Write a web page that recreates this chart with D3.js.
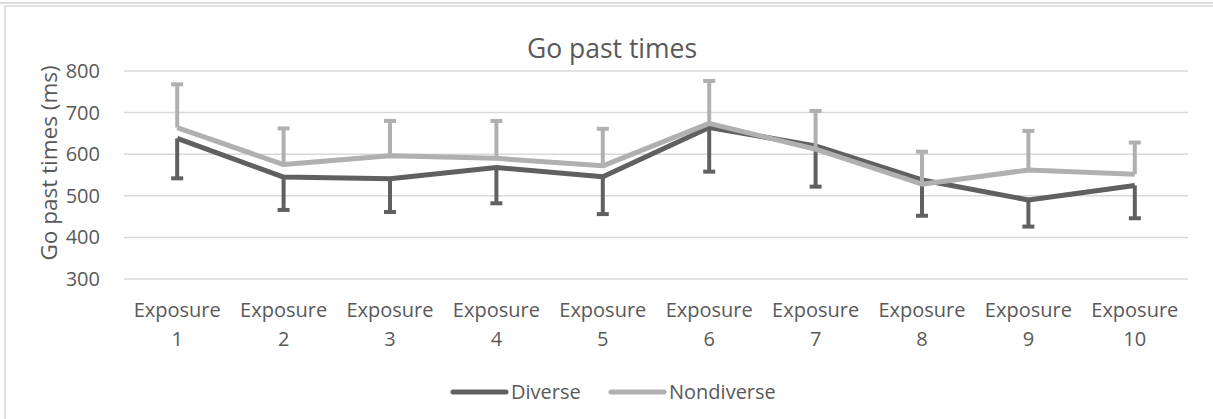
<!DOCTYPE html>
<html>
<head>
<meta charset="utf-8">
<script src="https://cdn.jsdelivr.net/npm/d3@7"></script>
<style>
    html, body { margin: 0; padding: 0; background: #fff; }
    svg { display: block; font-family: 'Open Sans', sans-serif; }
</style>
</head>
<body>
<svg id="chart"></svg>
<script>
'use strict';

const categories = ['Exposure 1', 'Exposure 2', 'Exposure 3', 'Exposure 4', 'Exposure 5',
    'Exposure 6', 'Exposure 7', 'Exposure 8', 'Exposure 9', 'Exposure 10'];
const diverse = [638, 545, 541, 568, 546, 664, 620, 538, 490, 525];
const diverseErr = [96, 79, 80, 86, 90, 106, 98, 86, 64, 79];
const nondiverse = [664, 575, 596, 590, 572, 674, 612, 528, 562, 552];
const nondiverseErr = [104, 87, 84, 90, 89, 102, 92, 78, 94, 76];
const yTicks = [300, 400, 500, 600, 700, 800];

(function () {
    const d3 = window.d3;
    const width = 1213;
    const height = 419;
    const plot = { left: 124, right: 1188, top: 71, bottom: 279 };
    const textColor = '#595959';
    const gridColor = '#d9d9d9';
    const darkColor = '#606060';
    const lightColor = '#b0b0b0';

    const svg = d3.select('#chart')
        .attr('width', width)
        .attr('height', height);

    // outer frame like the pasted office chart
    svg.append('line')
        .attr('x1', 0).attr('x2', width)
        .attr('y1', 3).attr('y2', 3)
        .attr('stroke', '#dcdcdc')
        .attr('stroke-width', 2);
    svg.append('rect')
        .attr('x', 5).attr('y', 6)
        .attr('width', width + 10).attr('height', height + 10)
        .attr('fill', 'none')
        .attr('stroke', '#d9d9d9')
        .attr('stroke-width', 1.5);

    const x = d3.scaleBand()
        .domain(categories)
        .range([plot.left, plot.right]);

    const y = d3.scaleLinear()
        .domain([300, 800])
        .range([plot.bottom, plot.top]);

    // gridlines
    svg.append('g')
        .selectAll('line')
        .data(yTicks)
        .enter().append('line')
        .attr('x1', plot.left)
        .attr('x2', plot.right)
        .attr('y1', d => y(d))
        .attr('y2', d => y(d))
        .attr('stroke', gridColor)
        .attr('stroke-width', 1.5);

    // y axis
    const yAxis = svg.append('g')
        .attr('transform', 'translate(' + plot.left + ',0)')
        .call(d3.axisLeft(y).tickValues(yTicks).tickSize(0).tickPadding(24));
    yAxis.select('.domain').remove();
    yAxis.selectAll('text')
        .attr('fill', textColor)
        .attr('font-size', '20px')
        .attr('font-family', "'Open Sans', sans-serif");

    // x axis, two line labels
    const xAxis = svg.append('g')
        .attr('transform', 'translate(0,' + plot.bottom + ')')
        .call(d3.axisBottom(x).tickSize(0).tickFormat(''));
    xAxis.select('.domain').remove();
    xAxis.selectAll('.tick')
        .append('text')
        .attr('fill', textColor)
        .attr('font-size', '20px')
        .attr('font-family', "'Open Sans', sans-serif")
        .attr('text-anchor', 'middle')
        .selectAll('tspan')
        .data(d => d.split(' '))
        .enter().append('tspan')
        .attr('x', 0)
        .attr('y', (d, i) => 38 + i * 29)
        .text(d => d);

    const cx = i => x(categories[i]) + x.bandwidth() / 2;

    const line = d3.line()
        .x((d, i) => cx(i))
        .y(d => y(d));

    function drawSeries(values, errs, color, dir) {
        svg.append('path')
            .datum(values)
            .attr('fill', 'none')
            .attr('stroke', color)
            .attr('stroke-width', 5)
            .attr('stroke-linejoin', 'round')
            .attr('d', line);

        const bars = svg.append('g')
            .selectAll('g')
            .data(values)
            .enter().append('g');
        bars.append('line')
            .attr('x1', (d, i) => cx(i))
            .attr('x2', (d, i) => cx(i))
            .attr('y1', d => y(d))
            .attr('y2', (d, i) => y(d + dir * errs[i]))
            .attr('stroke', color)
            .attr('stroke-width', 4);
        bars.append('line')
            .attr('x1', (d, i) => cx(i) - 6)
            .attr('x2', (d, i) => cx(i) + 6)
            .attr('y1', (d, i) => y(d + dir * errs[i]))
            .attr('y2', (d, i) => y(d + dir * errs[i]))
            .attr('stroke', color)
            .attr('stroke-width', 4);
    }

    drawSeries(diverse, diverseErr, darkColor, -1);
    drawSeries(nondiverse, nondiverseErr, lightColor, 1);

    // titles
    svg.append('text')
        .attr('x', 612)
        .attr('y', 58)
        .attr('text-anchor', 'middle')
        .attr('fill', textColor)
        .attr('font-size', '26.5px')
        .text('Go past times');

    svg.append('text')
        .attr('transform', 'translate(57,163) rotate(-90)')
        .attr('text-anchor', 'middle')
        .attr('fill', textColor)
        .attr('font-size', '22.5px')
        .text('Go past times (ms)');

    // legend
    const legend = svg.append('g')
        .selectAll('g')
        .data([
            { name: 'Diverse', color: darkColor, x: 453 },
            { name: 'Nondiverse', color: lightColor, x: 611 }
        ])
        .enter().append('g')
        .attr('transform', d => 'translate(' + d.x + ',392)');
    legend.append('line')
        .attr('x1', 0).attr('x2', 53)
        .attr('stroke', d => d.color)
        .attr('stroke-width', 5)
        .attr('stroke-linecap', 'round');
    legend.append('text')
        .attr('x', 58)
        .attr('dy', '0.35em')
        .attr('fill', textColor)
        .attr('font-size', '20px')
        .text(d => d.name);
}());
</script>
</body>
</html>
